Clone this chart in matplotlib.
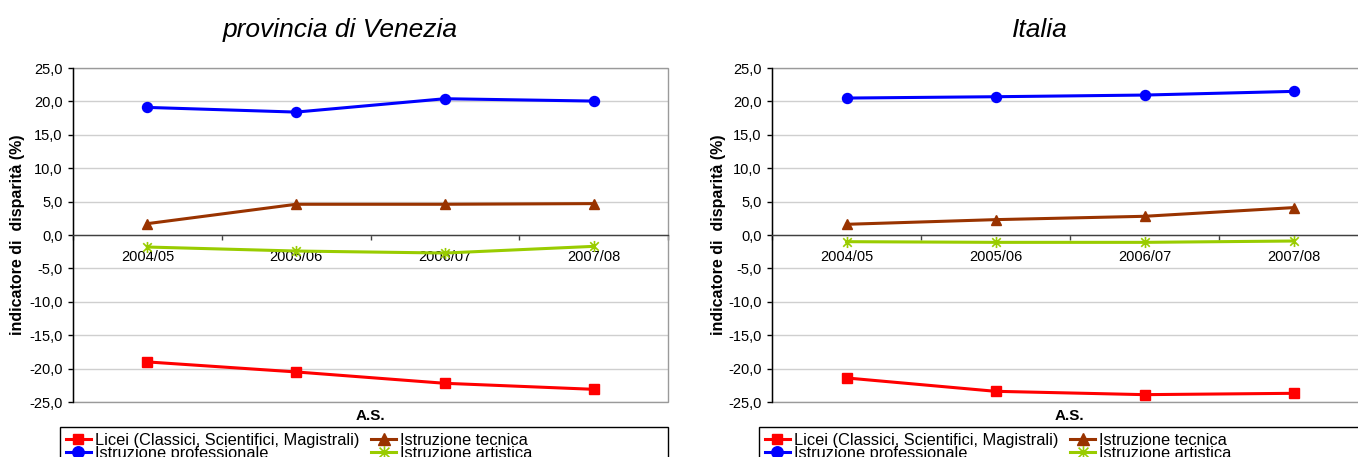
import matplotlib
matplotlib.use("Agg")
import matplotlib.pyplot as plt
from matplotlib.path import Path
from matplotlib.patches import Rectangle
from matplotlib.ticker import FixedLocator, FuncFormatter

plt.rcParams['font.family'] = ['Liberation Sans', 'DejaVu Sans']

# School years on the category axis
years = ['2004/05', '2005/06', '2006/07', '2007/08']

# Disparity indicator (%) - provincia di Venezia
venezia_licei = [-19.0, -20.5, -22.2, -23.1]
venezia_professionale = [19.1, 18.4, 20.4, 20.05]
venezia_tecnica = [1.7, 4.6, 4.6, 4.7]
venezia_artistica = [-1.8, -2.4, -2.7, -1.7]

# Disparity indicator (%) - Italia
italia_licei = [-21.4, -23.4, -23.9, -23.7]
italia_professionale = [20.5, 20.7, 20.95, 21.5]
italia_tecnica = [1.6, 2.3, 2.8, 4.1]
italia_artistica = [-1.0, -1.1, -1.1, -0.9]

series_labels = ['Licei (Classici, Scientifici, Magistrali)',
                 'Istruzione professionale',
                 'Istruzione tecnica',
                 'Istruzione artistica']
yticks = [25, 20, 15, 10, 5, 0, -5, -10, -15, -20, -25]

W, H = 1358, 457
fig = plt.figure(figsize=(W / 100, H / 100), dpi=100)

# Excel-like "star" marker: an x crossed by a vertical bar
star = Path([(-1, -1), (1, 1), (-1, 1), (1, -1), (0, -1.3), (0, 1.3)],
            [Path.MOVETO, Path.LINETO, Path.MOVETO, Path.LINETO,
             Path.MOVETO, Path.LINETO])

styles = [
    dict(color='#FF0000', marker='s', markersize=6.8),
    dict(color='#0000FF', marker='o', markersize=7.2),
    dict(color='#993300', marker='^', markersize=7.5),
    dict(color='#99CC00', marker=star, markersize=8, markeredgewidth=1.2),
]


def px_box(x0, y0, x1, y1):
    return [x0 / W, 1 - y1 / H, (x1 - x0) / W, (y1 - y0) / H]


def draw_panel(x0, x1, title, title_x, ylabel_x, data, legend_x):
    ax = fig.add_axes(px_box(x0, 68, x1, 402))
    xs = list(range(len(years)))
    lines = []
    for vals, lab, st in zip(data, series_labels, styles):
        ln, = ax.plot(xs, vals, label=lab, linewidth=2.2, zorder=4,
                      markeredgecolor=st['color'], clip_on=False, **st)
        lines.append(ln)

    ax.set_xlim(-0.5, len(years) - 0.5)
    ax.set_ylim(-25, 25)

    # gridlines
    ax.yaxis.set_major_locator(FixedLocator(yticks))
    ax.yaxis.set_major_formatter(FuncFormatter(lambda v, p: f"{v:.1f}".replace('.', ',')))
    ax.grid(axis='y', color='#cfcfcf', linewidth=1.0, zorder=0)
    ax.set_axisbelow(True)

    # plot frame
    for s in ('top', 'right'):
        ax.spines[s].set_visible(False)
    ax.add_patch(Rectangle((0, 0), 1, 1, transform=ax.transAxes, fill=False,
                           edgecolor='#9a9a9a', linewidth=1.0, zorder=1,
                           clip_on=False))
    ax.spines['left'].set_color('black')
    ax.spines['left'].set_linewidth(1.0)
    ax.spines['left'].set_zorder(3)
    ax.spines['bottom'].set_position(('data', 0))
    ax.spines['bottom'].set_color('#404040')
    ax.spines['bottom'].set_linewidth(1.0)
    ax.spines['bottom'].set_zorder(3)

    # category axis: labels at centres, tick marks at boundaries
    ax.set_xticks(xs)
    ax.set_xticklabels(years)
    ax.set_xticks([x - 0.5 for x in range(len(years) + 1)], minor=True)
    ax.tick_params(axis='x', which='major', length=0, pad=11, labelsize=10.5)
    ax.tick_params(axis='x', which='minor', length=3.5, width=1.0,
                   direction='out', color='#404040')
    ax.tick_params(axis='y', length=3.5, width=1.0, direction='out',
                   color='black', pad=4, labelsize=10.5)

    # titles
    fig.text(title_x / W, 1 - 30 / H, title, fontsize=19, style='italic',
             ha='center', va='center')
    fig.text(ylabel_x / W, 1 - 235 / H, 'indicatore di  disparità (%)',
             fontsize=11.5, fontweight='bold', rotation=90,
             ha='center', va='center')
    fig.text((x0 + 297.5) / W, 1 - 415.5 / H, 'A.S.', fontsize=11,
             fontweight='bold', ha='center', va='center')

    # legend box
    fig.patches.append(Rectangle((legend_x / W, -0.2), 608 / W,
                                 0.2 + (1 - 427 / H), transform=fig.transFigure,
                                 fill=False, edgecolor='black', linewidth=1.0))
    fig.legend(handles=lines, ncol=2, loc='upper left',
               bbox_to_anchor=((legend_x + 6) / W, 1 - 433 / H),
               frameon=False, borderpad=0, borderaxespad=0,
               fontsize=11.8, handlelength=1.5, handletextpad=0.25,
               columnspacing=0.75, labelspacing=-0.12, markerscale=1.15)
    return ax


draw_panel(73, 668, 'provincia di Venezia', 340, 18,
           [venezia_licei, venezia_professionale, venezia_tecnica, venezia_artistica], 60)
draw_panel(772, 1368, 'Italia', 1040, 718,
           [italia_licei, italia_professionale, italia_tecnica, italia_artistica], 759)

fig.savefig('out.png', dpi=100)
